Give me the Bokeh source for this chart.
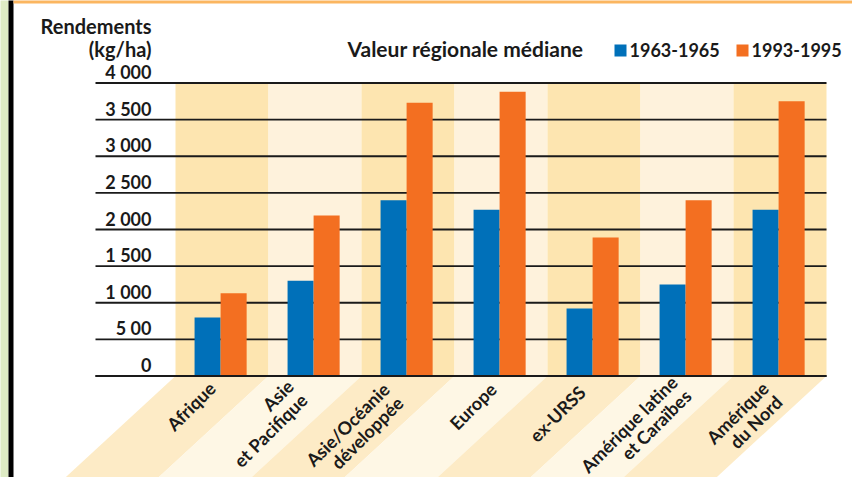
from bokeh.plotting import figure
from bokeh.models import Range1d, ColumnDataSource
from bokeh.transform import dodge
from bokeh.core.properties import value
from bokeh.embed import file_html
from bokeh.resources import INLINE
import math

# ---------------- data ----------------
categories = ["Afrique", "Asie\net Pacifique", "Asie/Océanie\ndéveloppée", "Europe",
              "ex-URSS", "Amérique latine\net Caraïbes", "Amérique\ndu Nord"]
yield_1963_1965 = [800, 1300, 2400, 2270, 920, 1250, 2270]
yield_1993_1995 = [1130, 2190, 3730, 3880, 1890, 2400, 3750]
series_names = ["1963-1965", "1993-1995"]
tick_values = [0, 500, 1000, 1500, 2000, 2500, 3000, 3500, 4000]
tick_labels = ["0", "5 00", "1 000", "1 500", "2 000", "2 500", "3 000", "3 500", "4 000"]
y_title = ["Rendements", "(kg/ha)"]
legend_title = "Valeur régionale médiane"

# ---------------- layout ----------------
W, H = 852, 477
CAT_PX = 93.0            # pixel width of one category
CAT0 = 175.0             # x pixel of the first category
ZERO = 375.5             # y pixel of value 0
K = 0.07325              # pixels per kg/ha
SLANT = 1.085            # horizontal shift per vertical pixel of the label stripes


def X(px):
    return (px - CAT0) / CAT_PX


def Y(py):
    return (ZERO - py) / K


FONT = value("Lato")
BLUE = "#0070b9"
ORANGE = "#f36f21"
STRIPE_TOP = ["#fde5b0", "#fef2dc"]
STRIPE_BOT = ["#fdebc6", "#fef7e5"]
TXT = "#1a1a1a"

p = figure(width=W, height=H, output_backend="svg", toolbar_location=None,
           x_range=Range1d(X(0), X(W)), y_range=Range1d(Y(H), Y(0)),
           x_axis_type=None, y_axis_type=None, min_border=0)
p.grid.visible = False
p.outline_line_color = None
p.background_fill_color = "white"
p.border_fill_color = "white"

n = len(categories)
top_v = tick_values[-1]

# column stripes above the axis
p.quad(left=list(range(n)), right=[i + 1 for i in range(n)], bottom=0, top=top_v,
       fill_color=[STRIPE_TOP[i % 2] for i in range(n)], line_color=None)

# slanted stripes below the axis
yb = Y(520)
s = (520 - ZERO) * SLANT / CAT_PX
p.patches(xs=[[i, i + 1, i + 1 - s, i - s] for i in range(n)],
          ys=[[0, 0, yb, yb] for _ in range(n)],
          fill_color=[STRIPE_BOT[i % 2] for i in range(n)], line_color=None)

# grid lines
p.segment(x0=X(95), x1=n, y0=tick_values, y1=tick_values, line_color=TXT, line_width=1.8)

# bars
src = ColumnDataSource(dict(x=[i + 0.5 for i in range(n)], a=yield_1963_1965, b=yield_1993_1995))
p.vbar(x=dodge("x", -0.155), width=0.28, top="a", source=src, fill_color=BLUE, line_color=None)
p.vbar(x=dodge("x", 0.125), width=0.28, top="b", source=src, fill_color=ORANGE, line_color=None)

# axis line on top of bars
p.segment(x0=X(95), x1=n, y0=0, y1=0, line_color=TXT, line_width=1.8)

# tick labels (sit above their grid line)
p.text(x=X(151), y=[v + 11 / K for v in tick_values], text=tick_labels,
       text_font=FONT, text_font_size="18px", text_font_style="bold",
       text_align="right", text_baseline="alphabetic", text_color=TXT)

# y title
p.text(x=X(151), y=[Y(25), Y(48)], text=y_title, text_font=FONT, text_font_size="20px",
       text_font_style="bold", text_align="right", text_baseline="alphabetic", text_color=TXT)

# legend
p.text(x=X(347), y=Y(48), text=[legend_title], text_font=FONT, text_font_size="21px",
       text_font_style="bold", text_align="left", text_baseline="alphabetic", text_color=TXT)
p.scatter(x=[X(620), X(742)], y=Y(50), marker="square", size=12,
          fill_color=[BLUE, ORANGE], line_color=None)
p.text(x=[X(629), X(751)], y=Y(49), text=series_names, text_font=FONT, text_font_size="18px",
       text_font_style="bold", text_align="left", text_baseline="alphabetic", text_color=TXT)

# category labels along the slanted stripes (right-aligned, rotated 45 degrees)
lab_dx = [-10, -25, -22, -8, -12, -13, -15]    # end of first line, px from column centre
lab_dy = [9, 7, 10, 10, 13, 3, 9]              # px below the axis
LINE_GAP = 19.5
lx, ly, lt = [], [], []
for i, name in enumerate(categories):
    cx = CAT0 + CAT_PX * (i + 0.5) + lab_dx[i]
    cy = ZERO + lab_dy[i]
    for j, line in enumerate(name.split("\n")):
        off = j * LINE_GAP / math.sqrt(2)
        lx.append(X(cx + off))
        ly.append(Y(cy + off))
        lt.append(line)
p.text(x=lx, y=ly, text=lt, angle=math.pi / 4,
       text_font=FONT, text_font_size="18px", text_font_style="bold",
       text_align="right", text_baseline="middle", text_color=TXT)

# frame decorations: green strip and black bar on the left, orange rule at top
p.quad(left=X(-5), right=X(8), bottom=Y(H + 20), top=Y(-5), fill_color="#deebc4", line_color=None)
p.quad(left=X(8), right=X(13), bottom=Y(H + 20), top=Y(-5), fill_color="black", line_color=None)
p.quad(left=X(13), right=X(W + 10), bottom=Y(3), top=Y(-5), fill_color="#fbb660", line_color=None)

open("out.html", "w").write(file_html(p, INLINE))
